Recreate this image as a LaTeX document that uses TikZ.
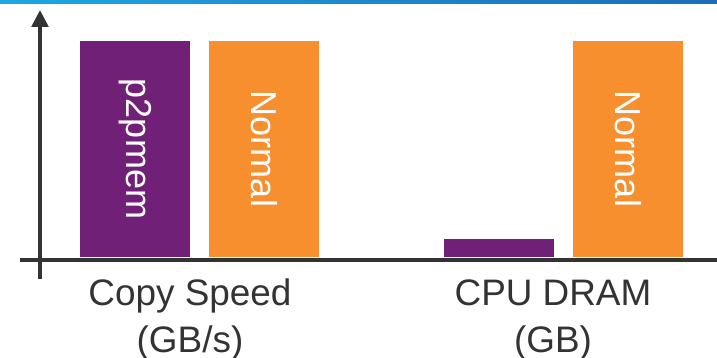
\documentclass[tikz,border=0pt]{standalone}
\usepackage{fontspec}
\setmainfont{Liberation Sans}
\usetikzlibrary{arrows.meta}

\definecolor{p2ppurple}{HTML}{702076}
\definecolor{normalorange}{HTML}{F78F2E}
\definecolor{axisgray}{HTML}{333333}
\definecolor{bandleft}{HTML}{1FA6E0}
\definecolor{bandright}{HTML}{1B6DB4}

\tikzset{
	axis/.style = {draw=axisgray, line width=2.3pt},
	p2pbar/.style = {fill=p2ppurple},
	normalbar/.style = {fill=normalorange},
	barlabel/.style = {text=white, rotate=-90, font=\fontsize{20.5}{24}\selectfont},
	axislabel/.style = {text=axisgray, anchor=base, inner sep=0pt, font=\fontsize{21}{25}\selectfont}
}

\begin{document}
\begin{tikzpicture}[x=0.02cm, y=-0.02cm]
	\useasboundingbox (0,0) rectangle (717,358);
	% top band
	\shade[left color=bandleft, right color=bandright] (0,0) rectangle (717,4);
	% bars
	\fill[p2pbar] (80,41) rectangle (190,257);
	\fill[normalbar] (209,41) rectangle (319,257);
	\fill[p2pbar] (444,239) rectangle (554,257);
	\fill[normalbar] (573,41) rectangle (683,257);
	\node[barlabel] (cs-p2p) at (135,149) {p2pmem};
	\node[barlabel] (cs-normal) at (264,149) {Normal};
	\node[barlabel] (dram-normal) at (628,149) {Normal};
	% axes
	\coordinate (ybot) at (40,279);
	\coordinate (ytop) at (40,10);
	\coordinate (xleft) at (20,260);
	\coordinate (xright) at (717,260);
	\draw[axis] (xleft) -- (xright);
	\draw[axis, -{Triangle[length=0.34cm, width=0.33cm]}] (ybot) -- (ytop);
	% labels
	\node[axislabel] (cs) at (190,305) {Copy Speed};
	\node[axislabel] (cs-unit) at (190,352) {(GB/s)};
	\node[axislabel] (dram) at (553,305) {CPU DRAM};
	\node[axislabel] (dram-unit) at (553,352) {(GB)};
\end{tikzpicture}
\end{document}
